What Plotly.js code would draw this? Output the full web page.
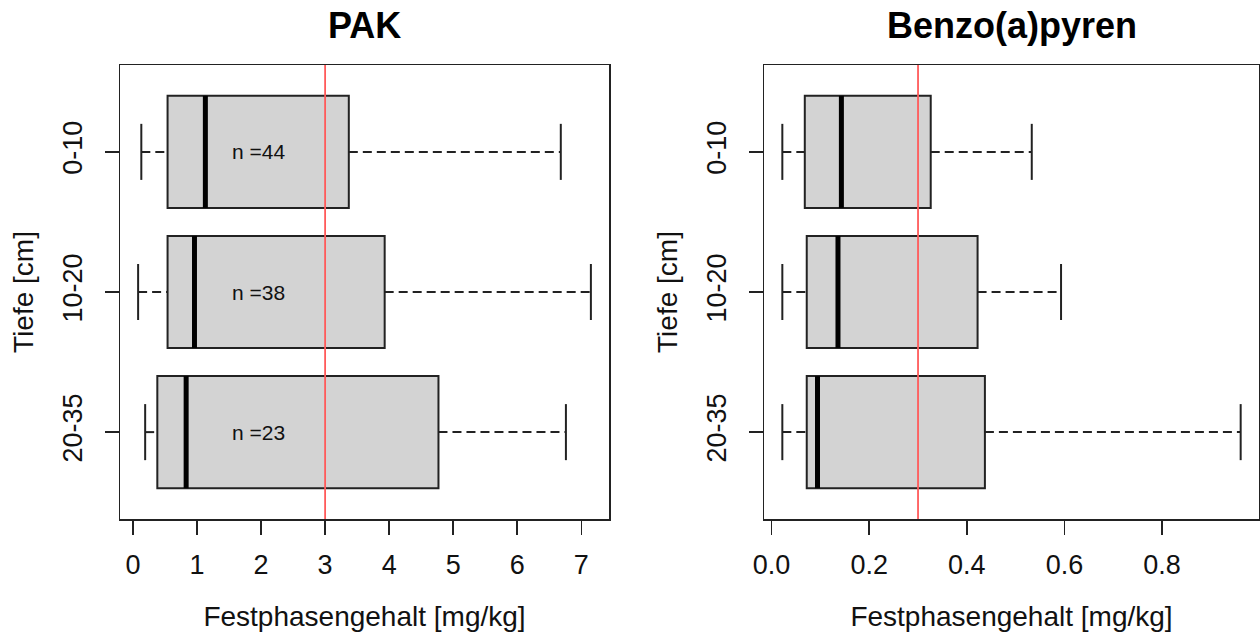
<!DOCTYPE html>
<html>
<head>
<meta charset="utf-8">
<script src="https://cdn.plot.ly/plotly-3.0.1.min.js"></script>
<style>html,body{margin:0;padding:0;background:#fff;}#chart{width:1260px;height:635px;}</style>
</head>
<body>
<div id="chart"></div>
<script>
// Depth categories (top to bottom in the chart)
const categories = ['0-10', '10-20', '20-35'];
const sampleCounts = [44, 38, 23];

// PAK (mg/kg)
const pakLow    = [0.13, 0.08, 0.19];
const pakQ1     = [0.54, 0.54, 0.38];
const pakMedian = [1.13, 0.96, 0.83];
const pakQ3     = [3.37, 3.93, 4.77];
const pakHigh   = [6.68, 7.15, 6.76];
const pakLimit  = 3;
const pakTicks  = [0, 1, 2, 3, 4, 5, 6, 7];

// Benzo(a)pyren (mg/kg)
const bapLow    = [0.022, 0.022, 0.022];
const bapQ1     = [0.068, 0.072, 0.072];
const bapMedian = [0.143, 0.136, 0.094];
const bapQ3     = [0.326, 0.422, 0.437];
const bapHigh   = [0.533, 0.593, 0.961];
const bapLimit  = 0.3;
const bapTicks  = [0, 0.2, 0.4, 0.6, 0.8];

const FONT = 'Liberation Sans, Arial, sans-serif';
const INK = '#222';
const positions = categories.map((c, i) => categories.length - i);
const BOXW = 0.8;

function panelTraces(low, q1, med, q3, high, xa, ya) {
  const traces = [];
  traces.push({
    type: 'box', orientation: 'h', xaxis: xa, yaxis: ya,
    y: positions, q1: q1, median: med, q3: q3,
    lowerfence: q1, upperfence: q3,
    width: BOXW, whiskerwidth: 0, boxpoints: false,
    fillcolor: '#d3d3d3', line: {color: INK, width: 2},
    hoverinfo: 'skip', showlegend: false
  });
  const wx = [], wy = [], cx = [], cy = [], mx = [], my = [];
  positions.forEach((p, i) => {
    wx.push(low[i], q1[i], null, q3[i], high[i], null);
    wy.push(p, p, null, p, p, null);
    cx.push(low[i], low[i], null, high[i], high[i], null);
    cy.push(p - BOXW / 4, p + BOXW / 4, null, p - BOXW / 4, p + BOXW / 4, null);
    mx.push(med[i], med[i], null);
    my.push(p - BOXW / 2, p + BOXW / 2, null);
  });
  traces.push({type: 'scatter', mode: 'lines', xaxis: xa, yaxis: ya, x: wx, y: wy,
    line: {color: INK, width: 2, dash: '9px,5px'}, hoverinfo: 'skip', showlegend: false});
  traces.push({type: 'scatter', mode: 'lines', xaxis: xa, yaxis: ya, x: cx, y: cy,
    line: {color: INK, width: 2}, hoverinfo: 'skip', showlegend: false});
  traces.push({type: 'scatter', mode: 'lines', xaxis: xa, yaxis: ya, x: mx, y: my,
    line: {color: '#000', width: 5}, hoverinfo: 'skip', showlegend: false});
  return traces;
}

function extRange(low, high) {
  const mn = Math.min(...low), mx = Math.max(...high);
  const d = (mx - mn) * 0.04;
  return [mn - d, mx + d];
}

const data = [].concat(
  panelTraces(pakLow, pakQ1, pakMedian, pakQ3, pakHigh, 'x', 'y'),
  panelTraces(bapLow, bapQ1, bapMedian, bapQ3, bapHigh, 'x2', 'y2')
);

const yRange = [0.5 - 0.04 * categories.length, categories.length + 0.5 + 0.04 * categories.length];
const yDomain = [1 - 519 / 635, 1 - 65 / 635];
const TICKSIZE = 27, TITLESIZE = 28;

function xAxis(domain, range, ticks, fmt, anchor) {
  return {
    domain: domain, range: range, anchor: anchor,
    tickvals: ticks, tickformat: fmt,
    ticks: 'outside', ticklen: 14, tickwidth: 1.5, tickcolor: INK,
    showline: true, mirror: true, linecolor: INK, linewidth: 1.5,
    showgrid: false, zeroline: false, ticklabelstandoff: 7,
    tickfont: {family: FONT, size: TICKSIZE, color: '#111'},
    title: {text: 'Festphasengehalt [mg/kg]', font: {family: FONT, size: TITLESIZE, color: '#111'}, standoff: 27},
    automargin: false, fixedrange: true
  };
}
function yAxis(anchor) {
  return {
    domain: yDomain, range: yRange, anchor: anchor,
    tickvals: positions, ticktext: categories, tickangle: -90,
    ticks: 'outside', ticklen: 14, tickwidth: 1.5, tickcolor: INK,
    showline: true, mirror: true, linecolor: INK, linewidth: 1.5,
    showgrid: false, zeroline: false, ticklabelstandoff: 12,
    tickfont: {family: FONT, size: TICKSIZE, color: '#111'},
    title: {text: 'Tiefe [cm]', font: {family: FONT, size: TITLESIZE, color: '#111'}, standoff: 16},
    automargin: false, fixedrange: true
  };
}

const xd1 = [120 / 1260, 609 / 1260];
const xd2 = [764 / 1260, 1259 / 1260];

const annotations = [
  {text: '<b>PAK</b>', xref: 'paper', yref: 'paper', x: (xd1[0] + xd1[1]) / 2, y: 1 - 25 / 635,
   xanchor: 'center', yanchor: 'middle', showarrow: false, font: {family: FONT, size: 36, color: '#000'}},
  {text: '<b>Benzo(a)pyren</b>', xref: 'paper', yref: 'paper', x: (xd2[0] + xd2[1]) / 2, y: 1 - 25 / 635,
   xanchor: 'center', yanchor: 'middle', showarrow: false, font: {family: FONT, size: 36, color: '#000'}}
];
positions.forEach((p, i) => {
  annotations.push({text: 'n =' + sampleCounts[i], xref: 'x', yref: 'y', x: 1.96, y: p,
    xanchor: 'center', yanchor: 'middle', showarrow: false, font: {family: FONT, size: 21, color: '#111'}});
});

const shapes = [
  {type: 'line', xref: 'x', yref: 'y domain', x0: pakLimit, x1: pakLimit, y0: 0, y1: 1,
   line: {color: '#ff5a5a', width: 1.8}, layer: 'above'},
  {type: 'line', xref: 'x2', yref: 'y2 domain', x0: bapLimit, x1: bapLimit, y0: 0, y1: 1,
   line: {color: '#ff5a5a', width: 1.8}, layer: 'above'}
];

const layout = {
  width: 1260, height: 635,
  margin: {l: 0, r: 0, t: 0, b: 0},
  paper_bgcolor: '#fff', plot_bgcolor: '#fff',
  showlegend: false,
  font: {family: FONT, color: '#111'},
  xaxis: xAxis(xd1, extRange(pakLow, pakHigh), pakTicks, 'd', 'y'),
  yaxis: yAxis('x'),
  xaxis2: xAxis(xd2, extRange(bapLow, bapHigh), bapTicks, '.1f', 'y2'),
  yaxis2: yAxis('x2'),
  annotations: annotations,
  shapes: shapes
};

Plotly.newPlot('chart', data, layout, {staticPlot: true, displayModeBar: false});
</script>
</body>
</html>
